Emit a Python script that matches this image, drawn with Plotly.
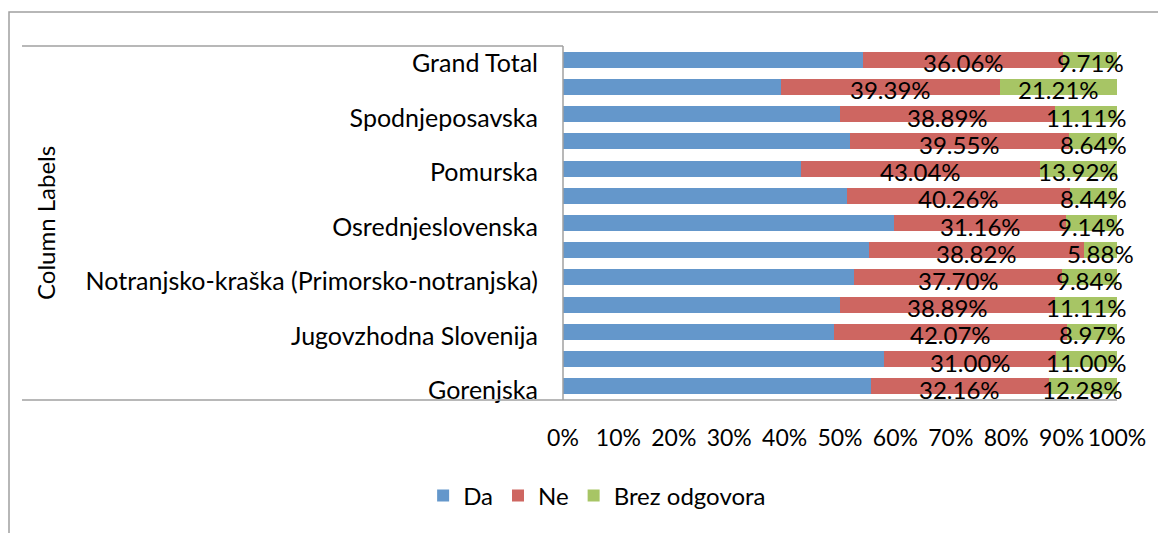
import plotly.graph_objects as go

categories = [
    "Gorenjska", "Goriška", "Jugovzhodna Slovenija", "Koroška",
    "Notranjsko-kraška (Primorsko-notranjska)", "Obalno-kraška",
    "Osrednjeslovenska", "Podravska", "Pomurska", "Savinjska",
    "Spodnjeposavska", "Zasavska", "Grand Total",
]
shown_labels = [
    "Gorenjska", "Jugovzhodna Slovenija",
    "Notranjsko-kraška (Primorsko-notranjska)", "Osrednjeslovenska",
    "Pomurska", "Spodnjeposavska", "Grand Total",
]
da = [55.56, 58.00, 48.96, 50.00, 52.46, 55.30, 59.70, 51.30, 43.04, 51.81, 50.00, 39.40, 54.23]
ne = [32.16, 31.00, 42.07, 38.89, 37.70, 38.82, 31.16, 40.26, 43.04, 39.55, 38.89, 39.39, 36.06]
brez = [12.28, 11.00, 8.97, 11.11, 9.84, 5.88, 9.14, 8.44, 13.92, 8.64, 11.11, 21.21, 9.71]

x_ticks = [i / 10 for i in range(11)]

FONT = "Lato"
FS = 24
C_DA = "#6497CB"
C_NE = "#CE6661"
C_BREZ = "#A7C565"
LINE = "#A0A0A0"

fig = go.Figure()
for name, vals, col in [("Da", da, C_DA), ("Ne", ne, C_NE), ("Brez odgovora", brez, C_BREZ)]:
    fig.add_trace(go.Bar(
        y=categories, x=[v / 100 for v in vals], name=name, orientation="h",
        marker=dict(color=col, line=dict(width=0)), hoverinfo="x+y+name",
    ))

annotations = []
for i, cat in enumerate(categories):
    ne_c = (da[i] + ne[i] / 2) / 100
    br_c = (da[i] + ne[i] + brez[i] / 2) / 100
    annotations.append(dict(x=ne_c, y=cat, xref="x", yref="y", text=f"{ne[i]:.2f}%",
                            showarrow=False, yshift=-3,
                            font=dict(family=FONT, size=FS, color="black")))
    annotations.append(dict(x=br_c, y=cat, xref="x", yref="y", text=f"{brez[i]:.2f}%",
                            showarrow=False, yshift=-3,
                            font=dict(family=FONT, size=FS, color="black")))

annotations.append(dict(text="Column Labels", xref="paper", yref="paper",
                        x=-0.935, y=0.5, textangle=-90, showarrow=False,
                        xanchor="center", yanchor="middle",
                        font=dict(family=FONT, size=FS, color="black")))

shapes = [
    # outer frame
    dict(type="rect", xref="paper", yref="paper", x0=-1.0, x1=2.0, y0=-2.0, y1=1.096,
         line=dict(color=LINE, width=1.5), fillcolor="rgba(0,0,0,0)", layer="below"),
    # bottom axis line
    dict(type="line", xref="paper", yref="paper", x0=-0.9765, x1=1.0, y0=0, y1=0,
         line=dict(color=LINE, width=1.5)),
    # top line over labels
    dict(type="line", xref="paper", yref="paper", x0=-0.9765, x1=0.0, y0=1, y1=1,
         line=dict(color=LINE, width=1.5)),
    # vertical axis line
    dict(type="line", xref="paper", yref="paper", x0=0, x1=0, y0=0, y1=1,
         line=dict(color=LINE, width=1.5)),
]

fig.update_layout(
    width=1158, height=525,
    barmode="stack", bargap=0.41,
    paper_bgcolor="white", plot_bgcolor="white",
    margin=dict(l=555, r=49, t=38, b=133),
    font=dict(family=FONT, size=FS, color="black"),
    showlegend=True,
    legend=dict(orientation="h", x=0.0616, xanchor="center", y=-0.271, yanchor="middle",
                font=dict(family=FONT, size=FS, color="black"), itemwidth=30,
                traceorder="normal"),
    annotations=annotations,
    shapes=shapes,
)
fig.update_xaxes(range=[0, 1], tickvals=x_ticks, tickformat=".0%", showgrid=False,
                 zeroline=False, showline=False, ticks="", ticklabelstandoff=22,
                 tickangle=0, ticklabeloverflow="allow",
                 tickfont=dict(family=FONT, size=23, color="black"), fixedrange=True)
fig.update_yaxes(categoryorder="array", categoryarray=categories, tickvals=shown_labels,
                 showgrid=False, zeroline=False, showline=False, ticks="",
                 ticklabelstandoff=24, ticklabelshift=4,
                 range=[-0.5, len(categories) - 0.5],
                 tickfont=dict(family=FONT, size=25, color="black"), fixedrange=True)

fig.write_html("out.html")
